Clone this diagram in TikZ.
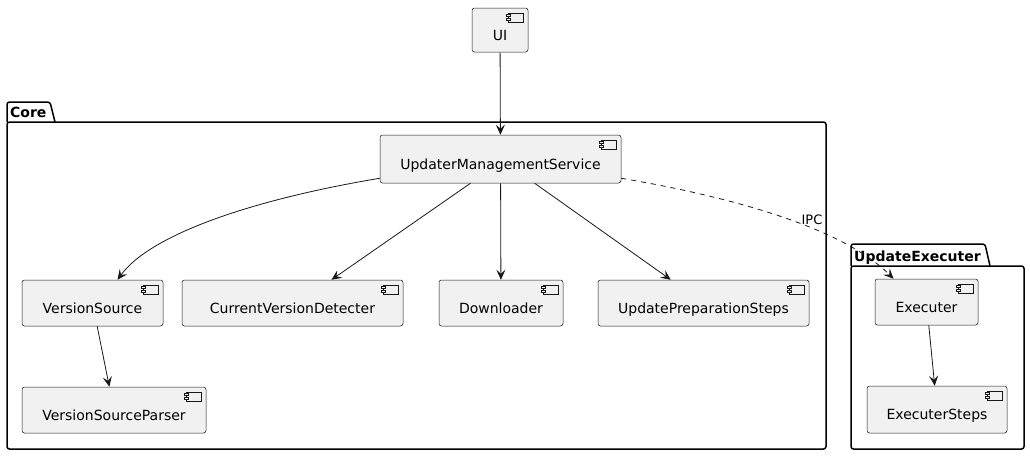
\documentclass[tikz,border=0pt]{standalone}
\usepackage{fontspec}
\setmainfont{DejaVu Sans}
\usetikzlibrary{arrows.meta,calc}
\definecolor{compfill}{HTML}{F1F1F1}
\definecolor{ink}{HTML}{181818}
\tikzset{
  comp/.style={draw=ink, line width=0.5pt, fill=compfill, rounded corners=2.5pt,
    inner sep=0pt, text height=20pt, text depth=0pt, font=\fontsize{14}{16}\selectfont},
  pkg/.style={draw=black, line width=1.5pt, rounded corners=2.5pt, inner sep=0pt},
  pkgtab/.style={draw=black, line width=1.5pt, rounded corners=2.5pt},
  pkglabel/.style={font=\bfseries\fontsize{14}{16}\selectfont, anchor=base west, inner sep=0pt},
  dep/.style={draw=ink, line width=0.8pt, -{Stealth[length=10pt,width=9pt,inset=4pt]}},
  ipc/.style={dep, dash pattern=on 5pt off 5pt},
  elabel/.style={font=\fontsize{13}{15}\selectfont, inner sep=0pt},
  icon/.style={draw=ink, line width=0.5pt, fill=compfill}
}
\newcommand{\compbox}[6]{%
  \pgfmathsetmacro{\cbw}{#4-#2}%
  \pgfmathsetmacro{\cbh}{#5-#3}%
  \pgfmathsetmacro{\cbx}{(#2+#4)/2}%
  \pgfmathsetmacro{\cby}{(#3+#5)/2}%
  \node[comp, minimum width=\cbw pt, minimum height=\cbh pt]
    (#1) at (\cbx,\cby) {#6\hspace{11pt}};
  \draw[icon] ($(#1.north east)+(-20,5)$) rectangle ($(#1.north east)+(-5,14)$);
  \draw[icon] ($(#1.north east)+(-22,6.8)$) rectangle ($(#1.north east)+(-18,8.8)$);
  \draw[icon] ($(#1.north east)+(-22,10.2)$) rectangle ($(#1.north east)+(-18,12.2)$);
}
\begin{document}
\begin{tikzpicture}[x=1pt,y=-1pt]
\useasboundingbox (0,0) rectangle (1030,455);
% packages
\draw[pkgtab] (7,122) -- (7,102) -- (50,102) -- (55,122);
\node[pkg, minimum width=819pt, minimum height=327pt] (core) at (416.5,285.5) {};
\node[pkglabel] (corelbl) at (10,117) {Core};
\draw[pkgtab] (851,266) -- (851,244) -- (985,244) -- (990,266);
\node[pkg, minimum width=173pt, minimum height=183pt] (upex) at (937.5,357.5) {};
\node[pkglabel] (upexlbl) at (854,261) {UpdateExecuter};
% components
\compbox{ui}{472}{8}{528}{52}{UI}
\compbox{ums}{380}{135}{621}{183}{UpdaterManagementService}
\compbox{vs}{22}{280}{163}{326}{VersionSource}
\compbox{cvd}{182}{280}{403}{326}{CurrentVersionDetecter}
\compbox{dl}{439}{280}{563}{326}{Downloader}
\compbox{ups}{598}{280}{809}{326}{UpdatePreparationSteps}
\compbox{vsp}{22}{387}{206}{433}{VersionSourceParser}
\compbox{ex}{875}{279}{978}{325}{Executer}
\compbox{exs}{867}{386}{1007}{433}{ExecuterSteps}
% connectors
\draw[dep] (ui) -- (ums);
\draw[dep] ($(ums.south west)+(0,-5)$) .. controls (250,200) and (150,235) .. ($(vs.north)+(25,0)$);
\draw[dep] ($(ums.south)+(-30,0)$) -- ($(cvd.north)+(39,0)$);
\draw[dep] (ums) -- (dl);
\draw[dep] (ums) -- (ups);
\draw[ipc] ($(ums.south east)+(0,-5)$) .. controls (720,195) and (840,225) .. ($(ex.north)+(-33,0)$);
\node[elabel] (ipclbl) at (812,220) {IPC};
\draw[dep] (vs) -- (vsp);
\draw[dep] (ex) -- (exs);
\end{tikzpicture}
\end{document}
